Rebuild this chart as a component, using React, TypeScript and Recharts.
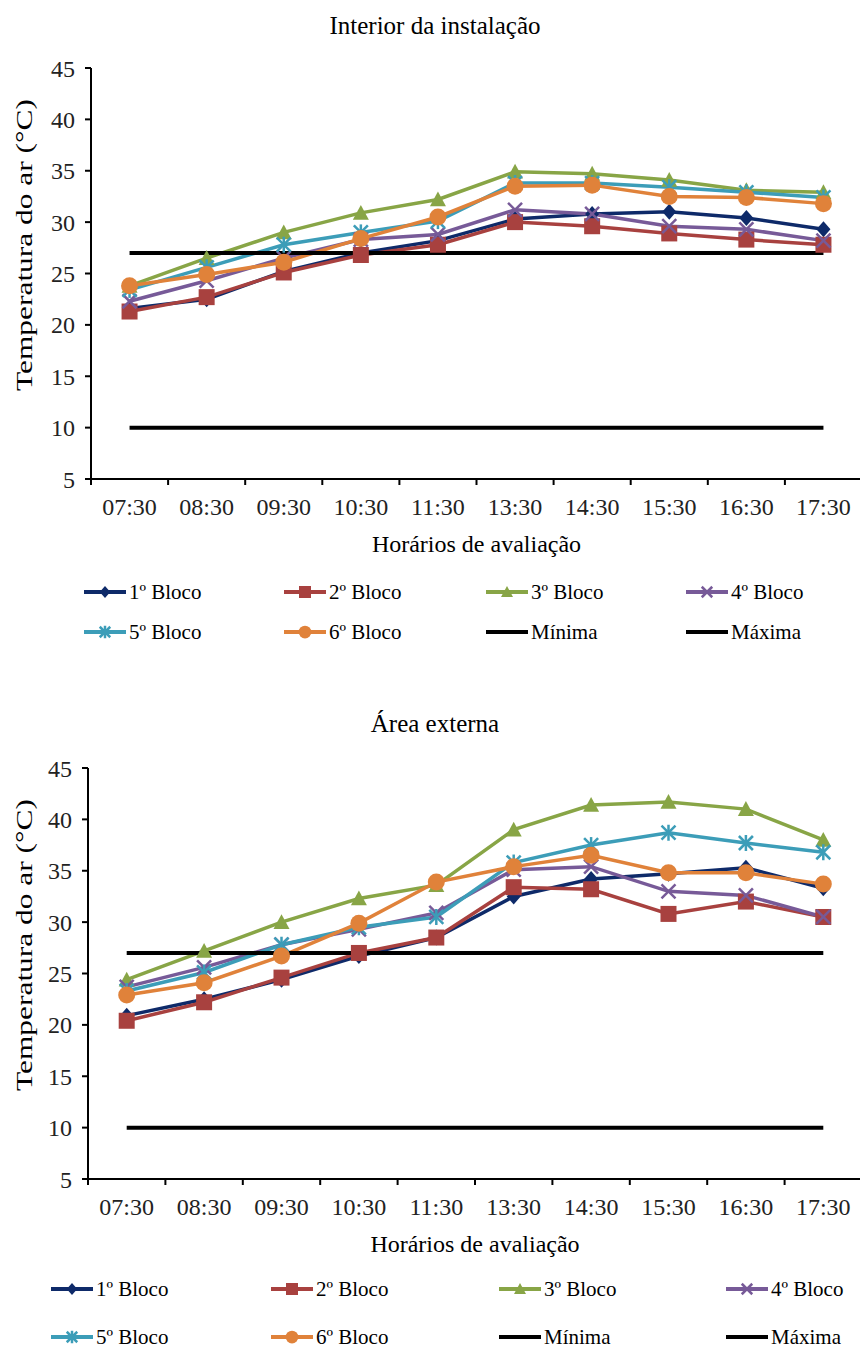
import React from "react";
import { LineChart, Line, XAxis, YAxis, Label } from "recharts";

const horarios = ["07:30", "08:30", "09:30", "10:30", "11:30", "13:30", "14:30", "15:30", "16:30", "17:30"];
const yTicks = [5, 10, 15, 20, 25, 30, 35, 40, 45];

// Interior da instalação
const intBloco1 = [21.6, 22.5, 25.2, 27.0, 28.2, 30.3, 30.8, 31.0, 30.4, 29.3];
const intBloco2 = [21.3, 22.7, 25.1, 26.8, 27.8, 30.0, 29.6, 28.9, 28.3, 27.8];
const intBloco3 = [23.8, 26.5, 29.0, 30.9, 32.2, 34.9, 34.7, 34.1, 33.1, 32.9];
const intBloco4 = [22.3, 24.3, 26.5, 28.3, 28.8, 31.2, 30.8, 29.6, 29.3, 28.2];
const intBloco5 = [23.4, 25.6, 27.8, 29.0, 30.1, 33.8, 33.8, 33.4, 32.9, 32.4];
const intBloco6 = [23.8, 24.9, 26.1, 28.4, 30.5, 33.5, 33.6, 32.5, 32.4, 31.8];

// Área externa
const extBloco1 = [20.9, 22.5, 24.4, 26.7, 28.5, 32.5, 34.2, 34.7, 35.3, 33.3];
const extBloco2 = [20.4, 22.2, 24.6, 27.0, 28.5, 33.4, 33.2, 30.8, 32.0, 30.5];
const extBloco3 = [24.4, 27.2, 30.0, 32.3, 33.6, 39.0, 41.4, 41.7, 41.0, 38.0];
const extBloco4 = [23.7, 25.6, 27.8, 29.3, 30.9, 35.1, 35.4, 33.0, 32.6, 30.5];
const extBloco5 = [23.3, 25.1, 27.8, 29.5, 30.5, 35.8, 37.5, 38.7, 37.7, 36.8];
const extBloco6 = [22.9, 24.1, 26.7, 29.9, 33.9, 35.4, 36.5, 34.8, 34.8, 33.7];

const minima = [10, 10, 10, 10, 10, 10, 10, 10, 10, 10];
const maxima = [27, 27, 27, 27, 27, 27, 27, 27, 27, 27];

const series = [
  { key: "b1", name: "1º Bloco", color: "#0E2A69", shape: "diamond" },
  { key: "b2", name: "2º Bloco", color: "#A8413F", shape: "square" },
  { key: "b3", name: "3º Bloco", color: "#88A546", shape: "triangle" },
  { key: "b4", name: "4º Bloco", color: "#775A98", shape: "x" },
  { key: "b5", name: "5º Bloco", color: "#3C9DB8", shape: "star" },
  { key: "b6", name: "6º Bloco", color: "#E0823A", shape: "circle" },
  { key: "min", name: "Mínima", color: "#000000", shape: "none" },
  { key: "max", name: "Máxima", color: "#000000", shape: "none" },
];

const FONT = '"Liberation Serif", "Times New Roman", serif';
const CHART_W = 862;

function buildRows(blocos: number[][]) {
  return horarios.map((h, i) => ({
    hora: h,
    b1: blocos[0][i],
    b2: blocos[1][i],
    b3: blocos[2][i],
    b4: blocos[3][i],
    b5: blocos[4][i],
    b6: blocos[5][i],
    min: minima[i],
    max: maxima[i],
  }));
}

const interiorRows = buildRows([intBloco1, intBloco2, intBloco3, intBloco4, intBloco5, intBloco6]);
const externaRows = buildRows([extBloco1, extBloco2, extBloco3, extBloco4, extBloco5, extBloco6]);

function Marker({ cx, cy, shape, color, k = 1 }: { cx: number; cy: number; shape: string; color: string; k?: number }) {
  if (cx == null || cy == null) return null;
  switch (shape) {
    case "diamond": {
      const w = 7 * k, h = 8 * k;
      return <polygon points={`${cx},${cy - h} ${cx + w},${cy} ${cx},${cy + h} ${cx - w},${cy}`} fill={color} />;
    }
    case "square": {
      const s = 8 * k;
      return <rect x={cx - s} y={cy - s} width={2 * s} height={2 * s} fill={color} />;
    }
    case "triangle": {
      const w = 8 * k, h = 8 * k;
      return <polygon points={`${cx},${cy - h} ${cx + w},${cy + h * 0.85} ${cx - w},${cy + h * 0.85}`} fill={color} />;
    }
    case "x": {
      const s = 7 * k;
      return (
        <g stroke={color} strokeWidth={2.5}>
          <line x1={cx - s} y1={cy - s} x2={cx + s} y2={cy + s} />
          <line x1={cx - s} y1={cy + s} x2={cx + s} y2={cy - s} />
        </g>
      );
    }
    case "star": {
      const s = 7 * k;
      return (
        <g stroke={color} strokeWidth={2.5}>
          <line x1={cx - s} y1={cy - s} x2={cx + s} y2={cy + s} />
          <line x1={cx - s} y1={cy + s} x2={cx + s} y2={cy - s} />
          <line x1={cx} y1={cy - s - 1} x2={cx} y2={cy + s + 1} />
        </g>
      );
    }
    case "circle":
      return <circle cx={cx} cy={cy} r={8.5 * k} fill={color} />;
    default:
      return null;
  }
}

// category label in the middle, tick marks on the category boundaries (Excel style)
function HourTick(props: any) {
  const { x, y, payload, index, visibleTicksCount, half } = props;
  const axisY = y - 19;
  return (
    <g>
      <line x1={x - half} y1={axisY} x2={x - half} y2={axisY + 6} stroke="#000" strokeWidth={2} />
      {index === visibleTicksCount - 1 && (
        <line x1={x + half} y1={axisY} x2={x + half} y2={axisY + 6} stroke="#000" strokeWidth={2} />
      )}
      <text x={x} y={y} dy="0.71em" textAnchor="middle" fill="#222" fontSize={24} fontFamily={FONT}>
        {payload.value}
      </text>
    </g>
  );
}

function YTitle({ x, y }: { x: number; y: number }) {
  return (
    <text
      x={0}
      y={0}
      transform={`translate(${x},${y}) rotate(-90)`}
      textAnchor="middle"
      dominantBaseline="central"
      fontFamily={FONT}
      fontSize={24}
      fill="#000"
      textLength={292}
      lengthAdjust="spacingAndGlyphs"
    >
      Temperatura do ar (°C)
    </text>
  );
}

function TempChart({ data, plotLeft }: { data: any[]; plotLeft: number }) {
  const half = (CHART_W - plotLeft) / 20;
  return (
    <LineChart width={CHART_W} height={559} data={data} margin={{ top: 68, right: 0, bottom: 0, left: 0 }}>
      <XAxis
        dataKey="hora"
        height={80}
        interval={0}
        padding={{ left: half, right: half }}
        tickLine={false}
        tickSize={6}
        tickMargin={13}
        axisLine={{ stroke: "#000", strokeWidth: 2 }}
        tick={<HourTick half={half} />}
      >
        <Label value="Horários de avaliação" position="insideBottom" offset={7} fill="#000" fontSize={24} fontFamily={FONT} />
      </XAxis>
      <YAxis
        width={plotLeft}
        domain={[5, 45]}
        ticks={yTicks}
        interval={0}
        tickSize={6}
        tickMargin={10}
        axisLine={{ stroke: "#000", strokeWidth: 2 }}
        tickLine={{ stroke: "#000", strokeWidth: 2 }}
        tick={{ fill: "#222", fontSize: 24, fontFamily: FONT }}
      >
        <Label content={() => <YTitle x={24} y={245} />} />
      </YAxis>
      {series.map((s) => (
        <Line
          key={s.key}
          dataKey={s.key}
          name={s.name}
          type="linear"
          stroke={s.color}
          strokeWidth={s.shape === "none" ? 4 : 3.5}
          isAnimationActive={false}
          activeDot={false}
          dot={
            s.shape === "none"
              ? false
              : (p: any) => <Marker key={`${s.key}-${p.index}`} cx={p.cx} cy={p.cy} shape={s.shape} color={s.color} />
          }
        />
      ))}
    </LineChart>
  );
}

function LegendBlock({ top, cols, rowGap }: { top: number; cols: number[]; rowGap: number }) {
  return (
    <>
      {series.map((s, i) => {
        const col = i % 4;
        const row = Math.floor(i / 4);
        return (
          <div
            key={s.key}
            style={{
              position: "absolute",
              left: cols[col],
              top: top + row * rowGap - 13,
              height: 26,
              display: "flex",
              alignItems: "center",
              fontFamily: FONT,
              fontSize: 21,
              color: "#000",
              whiteSpace: "nowrap",
            }}
          >
            <svg width={44} height={20} style={{ marginRight: 2 }}>
              <line x1={1} y1={10} x2={43} y2={10} stroke={s.color} strokeWidth={4} />
              <Marker cx={22} cy={10} shape={s.shape} color={s.color} k={0.75} />
            </svg>
            <span>{s.name}</span>
          </div>
        );
      })}
    </>
  );
}

function Title({ text, top }: { text: string; top: number }) {
  return (
    <div
      style={{
        position: "absolute",
        left: 0,
        top,
        width: 870,
        textAlign: "center",
        fontFamily: FONT,
        fontSize: 25,
        lineHeight: "28px",
        color: "#000",
      }}
    >
      {text}
    </div>
  );
}

export default function App() {
  return (
    <div
      style={{
        position: "absolute",
        left: 0,
        top: 0,
        width: 860,
        height: 1349,
        overflow: "hidden",
        background: "#fff",
      }}
    >
      <Title text="Interior da instalação" top={12} />
      <div style={{ position: "absolute", left: 0, top: 0 }}>
        <TempChart data={interiorRows} plotLeft={91} />
      </div>
      <LegendBlock top={592} cols={[83, 283, 485, 685]} rowGap={40} />

      <Title text="Área externa" top={710} />
      <div style={{ position: "absolute", left: 0, top: 700 }}>
        <TempChart data={externaRows} plotLeft={88} />
      </div>
      <LegendBlock top={1289} cols={[50, 270, 498, 725]} rowGap={48} />
    </div>
  );
}
